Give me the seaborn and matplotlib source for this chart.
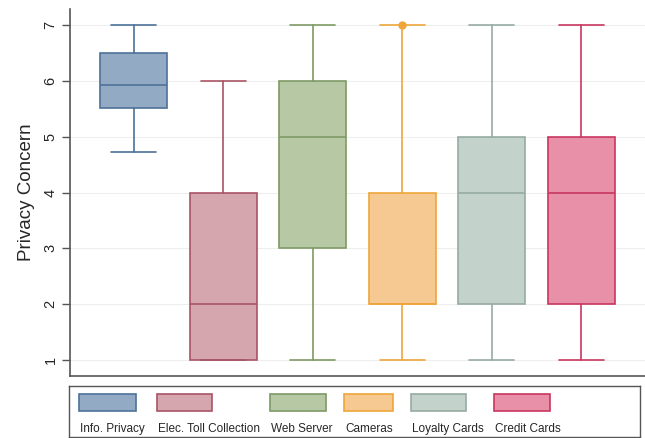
import matplotlib
matplotlib.use("Agg")
import matplotlib.pyplot as plt
import seaborn as sns
from matplotlib.patches import Rectangle

# five-number summaries
categories = ["Info. Privacy", "Elec. Toll Collection", "Web Server",
              "Cameras", "Loyalty Cards", "Credit Cards"]
whisker_low = [4.73, 1, 1, 1, 1, 1]
q1 = [5.52, 1, 3, 2, 2, 2]
median = [5.93, 2, 5, 2, 4, 4]
q3 = [6.5, 4, 6, 4, 5, 5]
whisker_high = [7, 6, 7, 7, 7, 7]
outliers = [[], [], [], [7], [], []]

fills = ["#93aac5", "#d5a6ae", "#b7c8a4", "#f6c992", "#c4d2cc", "#e890a8"]
edges = ["#4d7298", "#a85465", "#7e9a66", "#eea63a", "#97aba3", "#c8375f"]

sns.set_style("white")
plt.rcParams["font.family"] = ["Liberation Sans", "DejaVu Sans"]

fig = plt.figure(figsize=(6.45, 4.38), dpi=100)
ax = fig.add_axes([70 / 645, 1 - 376 / 438, 1 - 70 / 645, (376 - 9) / 438])

stats = []
for i, name in enumerate(categories):
    stats.append(dict(label=name, whislo=whisker_low[i], q1=q1[i], med=median[i],
                      q3=q3[i], whishi=whisker_high[i], fliers=outliers[i]))

positions = list(range(len(categories)))
for i, s in enumerate(stats):
    ax.bxp([s], positions=[positions[i]], widths=0.75, capwidths=0.5,
           patch_artist=True, showfliers=True,
           boxprops=dict(facecolor=fills[i], edgecolor=edges[i], linewidth=1.2),
           medianprops=dict(color=edges[i], linewidth=1.2),
           whiskerprops=dict(color=edges[i], linewidth=1.2),
           capprops=dict(color=edges[i], linewidth=1.2),
           flierprops=dict(marker="o", markersize=5, markerfacecolor=edges[i],
                           markeredgecolor=edges[i]))

ax.set_xlim(-0.71, 5.71)
ax.set_ylim(0.71, 7.29)
ax.set_xticks([])
ax.set_yticks(range(1, 8))
ax.set_yticklabels([str(v) for v in range(1, 8)], rotation=90, va="center", fontsize=10.5)
ax.tick_params(axis="y", left=True, length=6, width=1, color="#555555", pad=3)
ax.yaxis.grid(True, color="#eeeeee", linewidth=0.8)
ax.set_axisbelow(True)
ax.set_ylabel("Privacy Concern", fontsize=13.5, labelpad=6)
for side in ["top", "right"]:
    ax.spines[side].set_visible(False)
for side in ["left", "bottom"]:
    ax.spines[side].set_color("#555555")
    ax.spines[side].set_linewidth(1.2)

# legend box below the plot, keys above labels
lax = fig.add_axes([69 / 645, 1 - 437 / 438, (640 - 69) / 645, (437 - 386) / 438])
lax.set_xlim(69, 640)
lax.set_ylim(437, 386)
lax.set_xticks([])
lax.set_yticks([])
for sp in lax.spines.values():
    sp.set_color("#555555")
    sp.set_linewidth(1.0)
key_left = [79, 157, 270, 344, 411, 494]
key_right = [136, 212, 326, 393, 466, 550]
for i, name in enumerate(categories):
    lax.add_patch(Rectangle((key_left[i], 394), key_right[i] - key_left[i], 17,
                            facecolor=fills[i], edgecolor=edges[i], linewidth=1.2))
    lax.text(key_left[i] + 1, 429, name, fontsize=8.5, ha="left", va="center")

fig.savefig("out.png", dpi=100)
